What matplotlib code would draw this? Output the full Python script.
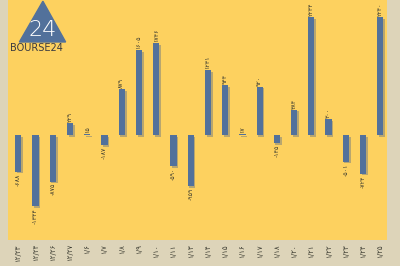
import matplotlib
matplotlib.use("Agg")
import matplotlib.pyplot as plt
import matplotlib.patheffects as pe
from matplotlib.patches import Polygon

fa = str.maketrans("0123456789", "۰۱۲۳۴۵۶۷۸۹")

dates = ["12/23", "12/24", "12/26", "12/27", "1/6", "1/7", "1/8", "1/9",
         "1/10", "1/11", "1/13", "1/14", "1/15", "1/16", "1/17", "1/18",
         "1/20", "1/21", "1/22", "1/23", "1/24", "1/25"]
values = [-688, -1344, -875, 229, 15, -187, 879, 1605, 1746, -590, -959,
          1231, 944, 17, 920, -145, 484, 2234, 300, -501, -724, 2240]

plt.rcParams['font.family'] = ['DejaVu Sans']

fig = plt.figure(figsize=(4, 2.66), dpi=100, facecolor="#ddd4b9")
ax = fig.add_axes([0.02, 0.098, 0.948, 0.902])
ax.set_facecolor("#fdd15f")

x = list(range(len(values)))
bars = ax.bar(x, values, width=0.36, color="#52719b", zorder=3)
for b in bars:
	b.set_path_effects([pe.SimplePatchShadow(offset=(1.2, -1.2), shadow_rgbFace="#8a8a7a", alpha=0.6), pe.Normal()])

for i, v in enumerate(values):
	txt = str(v).translate(fa)
	if v >= 0:
		ax.text(i, v + 20, txt, rotation=90, ha="center", va="bottom", fontsize=4.5, color="#3a3a30")
	else:
		ax.text(i, v - 30, txt, rotation=90, ha="center", va="top", fontsize=4.5, color="#3a3a30")

ax.set_xlim(-0.6, 21.4)
ax.set_ylim(-1980, 2560)
ax.set_xticks(x)
ax.set_xticklabels([d.translate(fa) for d in dates], rotation=90, fontsize=5, color="#3a3a30")
ax.tick_params(axis="x", length=0, pad=3)
ax.set_yticks([])
for s in ax.spines.values():
	s.set_visible(False)

# logo
tri = Polygon([[0.03, 0.825], [0.152, 0.825], [0.092, 0.995]], closed=True,
              transform=ax.transAxes, color="#52719b", zorder=5)
ax.add_patch(tri)
ax.text(0.092, 0.875, "24", transform=ax.transAxes, ha="center", va="center",
        fontsize=16, color="white", fontweight="light", zorder=6)
ax.text(0.075, 0.80, "BOURSE24", transform=ax.transAxes, ha="center", va="center",
        fontsize=7, color="#3a3a40", zorder=6)

fig.savefig("out.png", dpi=100, facecolor=fig.get_facecolor())
